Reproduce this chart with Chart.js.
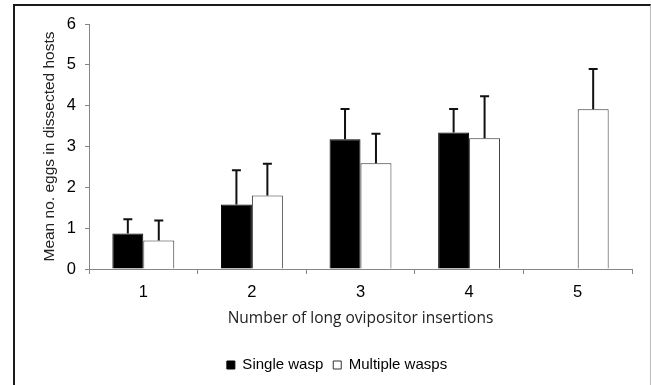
<!DOCTYPE html>
<html>
<head>
<meta charset="utf-8">
<script src="https://cdn.jsdelivr.net/npm/chart.js@4"></script>
<style>
  html, body { margin: 0; padding: 0; background: #fff; overflow: hidden; }
  #wrap { position: relative; width: 651px; height: 385px; }
  #frame {
    position: absolute; left: 13px; top: 4px; width: 635px; height: 420px;
    border-left: 2px solid #1a1a1a; border-top: 2px solid #1a1a1a; border-right: 1px solid #bbb;
    pointer-events: none;
  }
  canvas { position: absolute; left: 0; top: 0; }
</style>
</head>
<body>
<div id="wrap">
  <canvas id="chart" width="651" height="385"></canvas>
  <div id="frame"></div>
</div>
<script>
// valores
const categories = ['1', '2', '3', '4', '5'];
const singleWasp = [0.87, 1.58, 3.18, 3.34, null];
const multipleWasps = [0.70, 1.80, 2.59, 3.20, 3.91];
// barras de erro (só para cima)
const singleErr = [0.35, 0.84, 0.74, 0.58, null];
const multipleErr = [0.49, 0.78, 0.72, 1.03, 0.99];
const yTicks = [0, 1, 2, 3, 4, 5, 6];

const FONT = "'Liberation Sans', Arial, sans-serif";
const AXIS_GRAY = '#868686';

// desenha as barras de erro em cima de cada barra
const errorBars = {
  id: 'errorBars',
  afterDatasetsDraw(chart) {
    const ctx = chart.ctx;
    const y = chart.scales.y;
    const errs = [singleErr, multipleErr];
    ctx.save();
    ctx.strokeStyle = '#111';
    ctx.lineWidth = 2;
    chart.data.datasets.forEach((ds, i) => {
      const meta = chart.getDatasetMeta(i);
      meta.data.forEach((bar, j) => {
        const v = ds.data[j];
        const e = errs[i][j];
        if (v == null || e == null) return;
        const top = y.getPixelForValue(v + e);
        ctx.beginPath();
        ctx.moveTo(bar.x, bar.y);
        ctx.lineTo(bar.x, top);
        ctx.moveTo(bar.x - 4.5, top);
        ctx.lineTo(bar.x + 4.5, top);
        ctx.stroke();
      });
    });
    ctx.restore();
  }
};

new Chart(document.getElementById('chart'), {
  type: 'bar',
  data: {
    labels: categories,
    datasets: [
      {
        label: 'Single wasp',
        data: singleWasp,
        backgroundColor: '#000',
        borderColor: '#000',
        borderWidth: 1,
        categoryPercentage: 0.57,
        barPercentage: 1.0
      },
      {
        label: 'Multiple wasps',
        data: multipleWasps,
        backgroundColor: '#fff',
        borderColor: '#333',
        borderWidth: 1,
        categoryPercentage: 0.57,
        barPercentage: 1.0
      }
    ]
  },
  options: {
    responsive: false,
    animation: false,
    events: [],
    layout: {
      padding: { left: 42, right: 19, top: 24, bottom: 2.5 }
    },
    plugins: {
      tooltip: { enabled: false },
      legend: {
        display: true,
        position: 'bottom',
        labels: {
          boxWidth: 8,
          boxHeight: 8,
          padding: 10,
          color: '#000',
          font: { family: FONT, size: 15 }
        }
      }
    },
    scales: {
      x: {
        afterFit(scale) { scale.height = 78.5; },
        grid: {
          offset: true,
          drawOnChartArea: false,
          drawTicks: true,
          tickLength: 5,
          color: AXIS_GRAY
        },
        border: { color: AXIS_GRAY, width: 1 },
        ticks: {
          padding: 9,
          color: '#000',
          font: { family: FONT, size: 16.5 }
        },
        title: {
          display: true,
          text: 'Number of long ovipositor insertions',
          color: '#222',
          font: { family: "'Open Sans', sans-serif", size: 15.5 },
          padding: { top: 0, bottom: 19.5 }
        }
      },
      y: {
        min: 0,
        max: 6,
        afterFit(scale) { scale.width = 47; },
        afterBuildTicks(scale) { scale.ticks = yTicks.map(v => ({ value: v })); },
        grid: {
          drawOnChartArea: false,
          drawTicks: true,
          tickLength: 4,
          color: AXIS_GRAY
        },
        border: { color: AXIS_GRAY, width: 1 },
        ticks: {
          padding: 9,
          color: '#000',
          font: { family: FONT, size: 16.5 }
        },
        title: {
          display: true,
          text: 'Mean no. eggs in dissected hosts',
          color: '#222',
          font: { family: FONT, size: 15.5, lineHeight: 1 },
          padding: 0
        }
      }
    }
  },
  plugins: [errorBars]
});
</script>
</body>
</html>
